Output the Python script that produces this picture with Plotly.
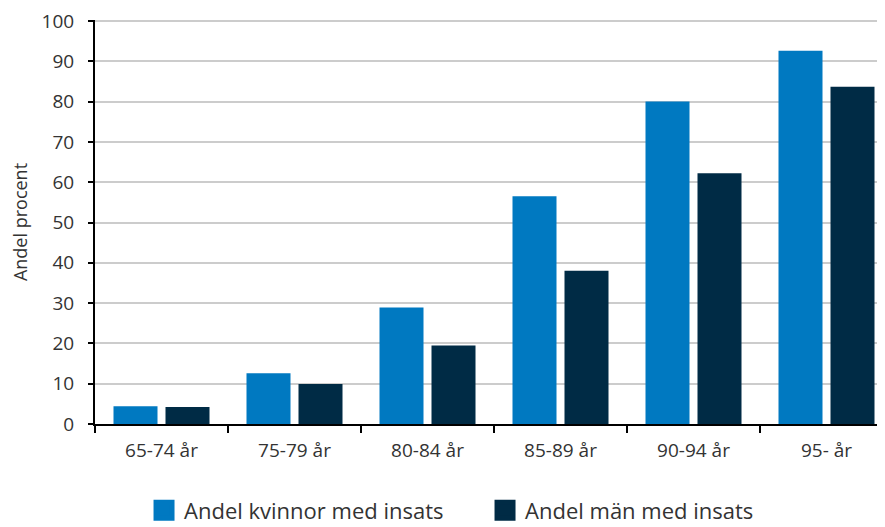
import plotly.graph_objects as go

categories = ["65-74 år", "75-79 år", "80-84 år", "85-89 år", "90-94 år", "95- år"]
kvinnor = [4.4, 12.6, 28.9, 56.5, 80.0, 92.6]
man = [4.2, 9.9, 19.5, 38.0, 62.2, 83.7]
series_names = ["Andel kvinnor med insats", "Andel män med insats"]
y_ticks = [0, 10, 20, 30, 40, 50, 60, 70, 80, 90, 100]

c_k = "#0079C1"
c_m = "#002B45"
txt = "#333333"
font = "Open Sans"

fig = go.Figure()
fig.add_trace(go.Bar(x=categories, y=kvinnor, name=series_names[0], marker_color=c_k,
                     marker_line_width=0, showlegend=False))
fig.add_trace(go.Bar(x=categories, y=man, name=series_names[1], marker_color=c_m,
                     marker_line_width=0, showlegend=False))
# legend entries with large square symbols
fig.add_trace(go.Scatter(x=[None], y=[None], mode="markers", name=series_names[0],
                         marker=dict(symbol="square", size=16, color=c_k,
                                     line=dict(color=c_k, width=5))))
fig.add_trace(go.Scatter(x=[None], y=[None], mode="markers", name=series_names[1],
                         marker=dict(symbol="square", size=16, color=c_m,
                                     line=dict(color=c_m, width=5))))

fig.update_layout(
    width=885, height=527,
    margin=dict(l=87, r=0, t=12, b=111, autoexpand=False),
    paper_bgcolor="white", plot_bgcolor="white",
    font=dict(family=font, size=19, color=txt),
    barmode="group", bargap=0.218, bargroupgap=0.154,
    legend=dict(orientation="h", xref="container", yref="container",
                x=0.1537, xanchor="left", y=0.0465, yanchor="middle",
                font=dict(size=22, color=txt), itemsizing="trace",
                entrywidth=296, entrywidthmode="pixels",
                tracegroupgap=0, bgcolor="rgba(0,0,0,0)"),
    xaxis=dict(type="category", range=[-0.5, 5.5], showline=True, linecolor="black",
               linewidth=2, ticks="outside", tickson="boundaries", ticklen=7,
               tickcolor="black", tickwidth=2, showgrid=False, ticklabelstandoff=8,
               automargin=False, tickfont=dict(size=19, color=txt)),
    yaxis=dict(range=[0, 100.25], tickvals=y_ticks, showline=True, linecolor="black",
               linewidth=2, ticks="outside", ticklen=5, tickcolor="black", tickwidth=2,
               showgrid=True, gridcolor="#CCCCCC", gridwidth=1.5, zeroline=False,
               automargin=False, ticklabelstandoff=10, ticklabeloverflow="allow",
               tickfont=dict(size=19, color=txt),
               title=dict(text="Andel procent", font=dict(size=18, color=txt), standoff=10)),
)

fig.write_html("out.html")
